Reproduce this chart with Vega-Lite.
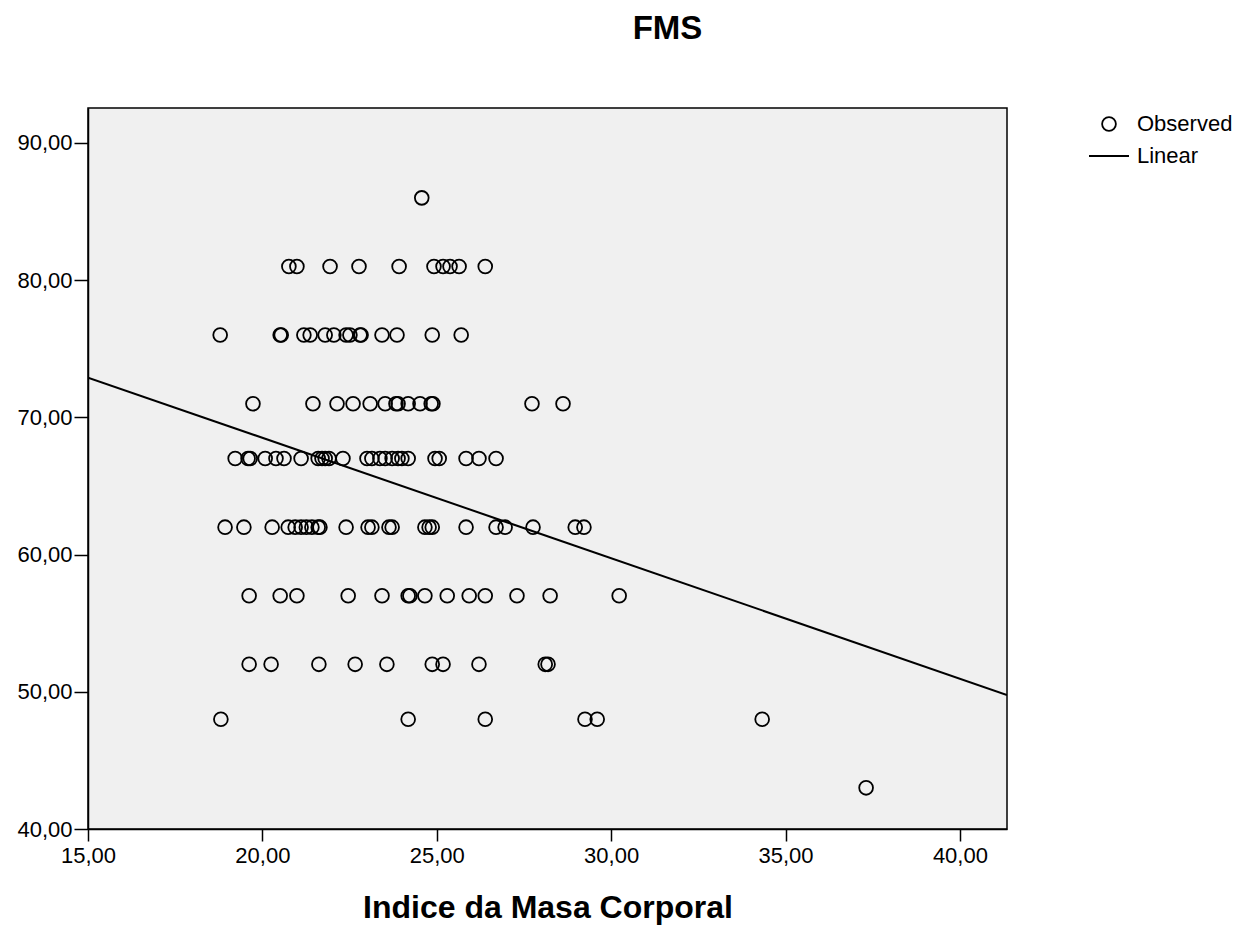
{
  "$schema": "https://vega.github.io/schema/vega-lite/v6.json",
  "width": 919,
  "height": 721,
  "autosize": {"type": "none"},
  "padding": {"left": 88, "top": 108, "right": 240, "bottom": 97},
  "background": "white",
  "title": {"text": "FMS", "font": "Liberation Sans", "fontSize": 33, "fontWeight": "bold", "color": "black", "anchor": "middle", "dx": 120, "offset": 62},
  "config": {
    "view": {"fill": "#f0f0f0", "stroke": "black", "strokeWidth": 1.5},
    "axis": {"grid": false, "domainColor": "black", "domainWidth": 1.5, "tickColor": "black", "tickWidth": 1.5, "labelColor": "black", "labelFont": "Liberation Sans", "labelFontSize": 22, "titleColor": "black"}
  },
  "datasets": {
    "obs": [
      {"bmi": 24.57, "fms": 86, "series": "Observed"},
      {"bmi": 20.76, "fms": 81, "series": "Observed"},
      {"bmi": 20.99, "fms": 81, "series": "Observed"},
      {"bmi": 21.94, "fms": 81, "series": "Observed"},
      {"bmi": 22.77, "fms": 81, "series": "Observed"},
      {"bmi": 23.92, "fms": 81, "series": "Observed"},
      {"bmi": 24.92, "fms": 81, "series": "Observed"},
      {"bmi": 25.18, "fms": 81, "series": "Observed"},
      {"bmi": 25.38, "fms": 81, "series": "Observed"},
      {"bmi": 25.64, "fms": 81, "series": "Observed"},
      {"bmi": 26.39, "fms": 81, "series": "Observed"},
      {"bmi": 18.79, "fms": 76, "series": "Observed"},
      {"bmi": 20.51, "fms": 76, "series": "Observed"},
      {"bmi": 20.54, "fms": 76, "series": "Observed"},
      {"bmi": 21.19, "fms": 76, "series": "Observed"},
      {"bmi": 21.37, "fms": 76, "series": "Observed"},
      {"bmi": 21.80, "fms": 76, "series": "Observed"},
      {"bmi": 22.05, "fms": 76, "series": "Observed"},
      {"bmi": 22.40, "fms": 76, "series": "Observed"},
      {"bmi": 22.51, "fms": 76, "series": "Observed"},
      {"bmi": 22.80, "fms": 76, "series": "Observed"},
      {"bmi": 22.83, "fms": 76, "series": "Observed"},
      {"bmi": 23.43, "fms": 76, "series": "Observed"},
      {"bmi": 23.86, "fms": 76, "series": "Observed"},
      {"bmi": 24.87, "fms": 76, "series": "Observed"},
      {"bmi": 25.70, "fms": 76, "series": "Observed"},
      {"bmi": 19.73, "fms": 71, "series": "Observed"},
      {"bmi": 21.45, "fms": 71, "series": "Observed"},
      {"bmi": 22.14, "fms": 71, "series": "Observed"},
      {"bmi": 22.60, "fms": 71, "series": "Observed"},
      {"bmi": 23.09, "fms": 71, "series": "Observed"},
      {"bmi": 23.52, "fms": 71, "series": "Observed"},
      {"bmi": 23.83, "fms": 71, "series": "Observed"},
      {"bmi": 23.89, "fms": 71, "series": "Observed"},
      {"bmi": 24.18, "fms": 71, "series": "Observed"},
      {"bmi": 24.52, "fms": 71, "series": "Observed"},
      {"bmi": 24.84, "fms": 71, "series": "Observed"},
      {"bmi": 24.89, "fms": 71, "series": "Observed"},
      {"bmi": 27.73, "fms": 71, "series": "Observed"},
      {"bmi": 28.62, "fms": 71, "series": "Observed"},
      {"bmi": 19.22, "fms": 67, "series": "Observed"},
      {"bmi": 19.59, "fms": 67, "series": "Observed"},
      {"bmi": 19.65, "fms": 67, "series": "Observed"},
      {"bmi": 20.08, "fms": 67, "series": "Observed"},
      {"bmi": 20.39, "fms": 67, "series": "Observed"},
      {"bmi": 20.62, "fms": 67, "series": "Observed"},
      {"bmi": 21.11, "fms": 67, "series": "Observed"},
      {"bmi": 21.60, "fms": 67, "series": "Observed"},
      {"bmi": 21.71, "fms": 67, "series": "Observed"},
      {"bmi": 21.80, "fms": 67, "series": "Observed"},
      {"bmi": 21.91, "fms": 67, "series": "Observed"},
      {"bmi": 22.31, "fms": 67, "series": "Observed"},
      {"bmi": 23.00, "fms": 67, "series": "Observed"},
      {"bmi": 23.14, "fms": 67, "series": "Observed"},
      {"bmi": 23.37, "fms": 67, "series": "Observed"},
      {"bmi": 23.52, "fms": 67, "series": "Observed"},
      {"bmi": 23.72, "fms": 67, "series": "Observed"},
      {"bmi": 23.89, "fms": 67, "series": "Observed"},
      {"bmi": 24.00, "fms": 67, "series": "Observed"},
      {"bmi": 24.18, "fms": 67, "series": "Observed"},
      {"bmi": 24.95, "fms": 67, "series": "Observed"},
      {"bmi": 25.07, "fms": 67, "series": "Observed"},
      {"bmi": 25.84, "fms": 67, "series": "Observed"},
      {"bmi": 26.21, "fms": 67, "series": "Observed"},
      {"bmi": 26.70, "fms": 67, "series": "Observed"},
      {"bmi": 18.93, "fms": 62, "series": "Observed"},
      {"bmi": 19.47, "fms": 62, "series": "Observed"},
      {"bmi": 20.28, "fms": 62, "series": "Observed"},
      {"bmi": 20.74, "fms": 62, "series": "Observed"},
      {"bmi": 20.94, "fms": 62, "series": "Observed"},
      {"bmi": 21.11, "fms": 62, "series": "Observed"},
      {"bmi": 21.26, "fms": 62, "series": "Observed"},
      {"bmi": 21.42, "fms": 62, "series": "Observed"},
      {"bmi": 21.60, "fms": 62, "series": "Observed"},
      {"bmi": 21.65, "fms": 62, "series": "Observed"},
      {"bmi": 22.40, "fms": 62, "series": "Observed"},
      {"bmi": 23.03, "fms": 62, "series": "Observed"},
      {"bmi": 23.14, "fms": 62, "series": "Observed"},
      {"bmi": 23.63, "fms": 62, "series": "Observed"},
      {"bmi": 23.72, "fms": 62, "series": "Observed"},
      {"bmi": 24.66, "fms": 62, "series": "Observed"},
      {"bmi": 24.78, "fms": 62, "series": "Observed"},
      {"bmi": 24.87, "fms": 62, "series": "Observed"},
      {"bmi": 25.84, "fms": 62, "series": "Observed"},
      {"bmi": 26.70, "fms": 62, "series": "Observed"},
      {"bmi": 26.96, "fms": 62, "series": "Observed"},
      {"bmi": 27.76, "fms": 62, "series": "Observed"},
      {"bmi": 28.97, "fms": 62, "series": "Observed"},
      {"bmi": 29.22, "fms": 62, "series": "Observed"},
      {"bmi": 19.62, "fms": 57, "series": "Observed"},
      {"bmi": 20.51, "fms": 57, "series": "Observed"},
      {"bmi": 20.99, "fms": 57, "series": "Observed"},
      {"bmi": 22.46, "fms": 57, "series": "Observed"},
      {"bmi": 23.43, "fms": 57, "series": "Observed"},
      {"bmi": 24.18, "fms": 57, "series": "Observed"},
      {"bmi": 24.23, "fms": 57, "series": "Observed"},
      {"bmi": 24.66, "fms": 57, "series": "Observed"},
      {"bmi": 25.30, "fms": 57, "series": "Observed"},
      {"bmi": 25.93, "fms": 57, "series": "Observed"},
      {"bmi": 26.39, "fms": 57, "series": "Observed"},
      {"bmi": 27.30, "fms": 57, "series": "Observed"},
      {"bmi": 28.25, "fms": 57, "series": "Observed"},
      {"bmi": 30.23, "fms": 57, "series": "Observed"},
      {"bmi": 19.62, "fms": 52, "series": "Observed"},
      {"bmi": 20.25, "fms": 52, "series": "Observed"},
      {"bmi": 21.62, "fms": 52, "series": "Observed"},
      {"bmi": 22.66, "fms": 52, "series": "Observed"},
      {"bmi": 23.57, "fms": 52, "series": "Observed"},
      {"bmi": 24.87, "fms": 52, "series": "Observed"},
      {"bmi": 25.18, "fms": 52, "series": "Observed"},
      {"bmi": 26.21, "fms": 52, "series": "Observed"},
      {"bmi": 28.11, "fms": 52, "series": "Observed"},
      {"bmi": 28.19, "fms": 52, "series": "Observed"},
      {"bmi": 18.81, "fms": 48, "series": "Observed"},
      {"bmi": 24.18, "fms": 48, "series": "Observed"},
      {"bmi": 26.39, "fms": 48, "series": "Observed"},
      {"bmi": 29.25, "fms": 48, "series": "Observed"},
      {"bmi": 29.60, "fms": 48, "series": "Observed"},
      {"bmi": 34.33, "fms": 48, "series": "Observed"},
      {"bmi": 37.31, "fms": 43, "series": "Observed"}
    ],
    "fit": [
      {"bmi": 15, "fms": 72.9},
      {"bmi": 41.35, "fms": 49.77}
    ]
  },
  "layer": [
    {
      "data": {"name": "fit"},
      "mark": {"type": "line", "color": "black", "strokeWidth": 2, "clip": true},
      "encoding": {
        "x": {"field": "bmi", "type": "quantitative"},
        "y": {"field": "fms", "type": "quantitative"}
      }
    },
    {
      "data": {"name": "obs"},
      "mark": {"type": "point", "filled": false, "color": "black", "strokeWidth": 1.8, "opacity": 1},
      "encoding": {
        "x": {
          "field": "bmi", "type": "quantitative",
          "scale": {"domain": [15, 41.35], "nice": false, "zero": false},
          "axis": {
            "values": [15, 20, 25, 30, 35, 40],
            "labelExpr": "replace(format(datum.value, '.2f'), '.', ',')",
            "title": "Indice da Masa Corporal",
            "titleFont": "Liberation Sans", "titleFontSize": 32, "titleFontWeight": "bold",
            "tickSize": 12, "labelPadding": 4, "titlePadding": 26,
            "labelFlush": false, "labelOverlap": false
          }
        },
        "y": {
          "field": "fms", "type": "quantitative",
          "scale": {"domain": [40, 92.55], "nice": false, "zero": false},
          "axis": {
            "values": [40, 50, 60, 70, 80, 90],
            "labelExpr": "replace(format(datum.value, '.2f'), '.', ',')",
            "title": null, "tickSize": 14, "labelPadding": 2,
            "labelFlush": false, "labelOverlap": false
          }
        },
        "shape": {
          "field": "series", "type": "nominal",
          "scale": {"domain": ["Observed", "Linear"], "range": ["circle", "stroke"]},
          "legend": {
            "orient": "none", "legendX": 1000, "legendY": 5, "title": null,
            "labelFont": "Liberation Sans", "labelFontSize": 22, "labelColor": "black",
            "labelOffset": 7, "symbolStrokeColor": "black", "symbolFillColor": "transparent",
            "symbolStrokeWidth": 1.8, "rowPadding": -4
          }
        },
        "size": {
          "field": "series", "type": "nominal",
          "scale": {"domain": ["Observed", "Linear"], "range": [190, 1600]}
        }
      }
    }
  ]
}
